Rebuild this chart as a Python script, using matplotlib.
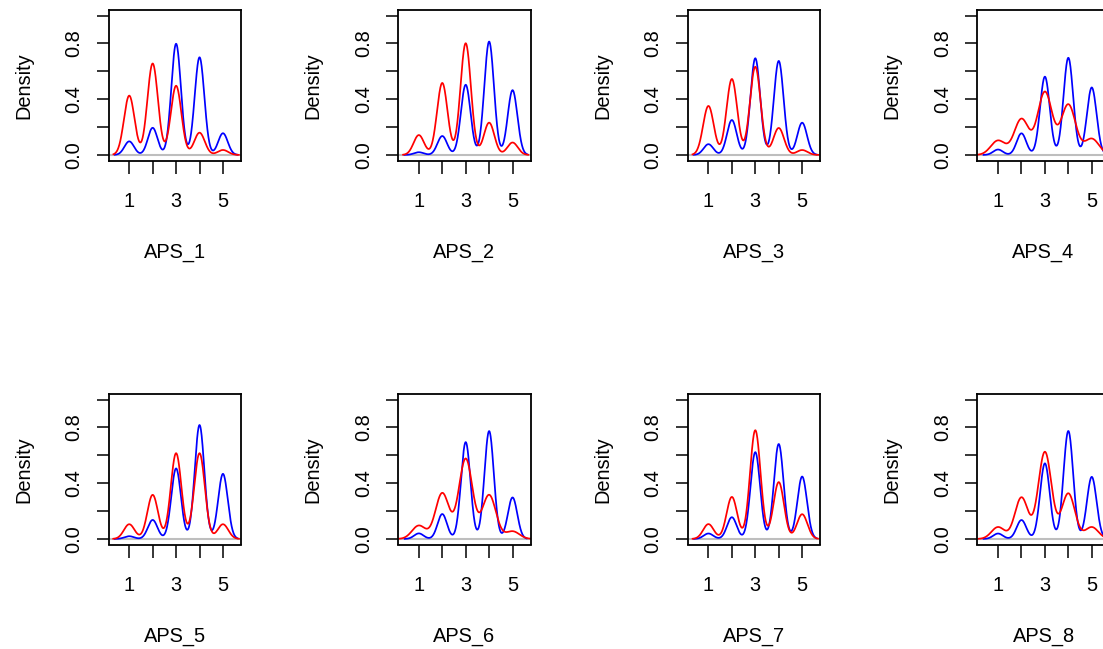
# Density of APS item responses, comparing two groups (blue vs red).
# Each curve is a Gaussian kernel density over the 1-5 answer scale,
# built from the share of respondents giving each answer.

import numpy as np
import matplotlib
matplotlib.use("Agg")
import matplotlib.pyplot as plt

items = ["APS_1", "APS_2", "APS_3", "APS_4", "APS_5", "APS_6", "APS_7", "APS_8"]
levels = [1, 2, 3, 4, 5]

# share of answers at each level (1..5), group plotted in blue
blue_shares = [
    [0.05, 0.10, 0.41, 0.36, 0.08],
    [0.01, 0.07, 0.26, 0.42, 0.24],
    [0.04, 0.13, 0.36, 0.35, 0.12],
    [0.02, 0.08, 0.29, 0.36, 0.25],
    [0.01, 0.07, 0.26, 0.42, 0.24],
    [0.02, 0.09, 0.35, 0.39, 0.15],
    [0.02, 0.08, 0.32, 0.35, 0.23],
    [0.02, 0.07, 0.28, 0.40, 0.23],
]
blue_bw = [0.205, 0.206, 0.207, 0.206, 0.205, 0.201, 0.205, 0.206]

# share of answers at each level (1..5), group plotted in red
red_shares = [
    [0.24, 0.37, 0.28, 0.09, 0.02],
    [0.08, 0.29, 0.45, 0.13, 0.05],
    [0.20, 0.31, 0.36, 0.11, 0.02],
    [0.08, 0.20, 0.35, 0.28, 0.09],
    [0.06, 0.18, 0.35, 0.35, 0.06],
    [0.07, 0.24, 0.42, 0.23, 0.04],
    [0.06, 0.17, 0.44, 0.23, 0.10],
    [0.06, 0.21, 0.44, 0.23, 0.06],
]
red_bw = [0.225, 0.224, 0.227, 0.309, 0.227, 0.291, 0.225, 0.281]

y_ticks = [0.0, 0.2, 0.4, 0.6, 0.8, 1.0]
y_ticklabels = ["0.0", "", "0.4", "", "0.8", ""]
x_ticklabels = ["1", "", "3", "", "5"]

W, H = 1103, 649


def kde(shares, bw, n=512):
    # gaussian kernel density of discrete answers, R-style range (cut = 3)
    lv = np.asarray(levels, dtype=float)
    x = np.linspace(lv.min() - 3 * bw, lv.max() + 3 * bw, n)
    y = np.zeros_like(x)
    for k, s in zip(lv, shares):
        y += s * np.exp(-0.5 * ((x - k) / bw) ** 2) / (bw * np.sqrt(2 * np.pi))
    return x, y


def main():
    plt.rcParams["font.family"] = ["Liberation Sans", "DejaVu Sans"]
    plt.rcParams["font.size"] = 14.4

    fig = plt.figure(figsize=(W / 100, H / 100), dpi=100)
    fig.patch.set_facecolor("white")

    box_w, box_h = 132.5, 150.5
    for i, name in enumerate(items):
        row, col = divmod(i, 4)
        left = 108.5 + 289.6 * col
        top = 10 if row == 0 else 394
        ax = fig.add_axes([left / W, 1 - (top + box_h) / H, box_w / W, box_h / H])

        bx, by = kde(blue_shares[i], blue_bw[i])
        rx, ry = kde(red_shares[i], red_bw[i])
        ax.plot(bx, by, color="#0000ff", lw=1.25)
        ax.axhline(0, color="#bebebe", lw=1.5, zorder=1.5)
        ax.plot(rx, ry, color="#ff0000", lw=1.25)

        ax.set_xlim(0.115, 5.77)
        ax.set_ylim(-0.04, 1.04)
        ax.set_xticks(levels)
        ax.set_xticklabels(x_ticklabels)
        ax.set_yticks(y_ticks)
        ax.set_yticklabels(y_ticklabels, rotation=90, va="center")

        for sp in ax.spines.values():
            sp.set_linewidth(1.3)
            sp.set_color("black")
        ax.tick_params(axis="both", direction="out", length=9, width=1.1,
                       color="black", labelcolor="black")
        ax.tick_params(axis="x", pad=13.5)
        ax.tick_params(axis="y", pad=9)

        ax.set_xlabel(name)
        ax.xaxis.set_label_coords(0.5, -92 / box_h)
        ax.xaxis.label.set_verticalalignment("center")
        ax.set_ylabel("Density")
        ax.yaxis.set_label_coords(-85 / box_w, 0.5)
        ax.yaxis.label.set_verticalalignment("center")

    fig.savefig("out.png", dpi=100)
    plt.close(fig)


if __name__ == "__main__":
    main()
